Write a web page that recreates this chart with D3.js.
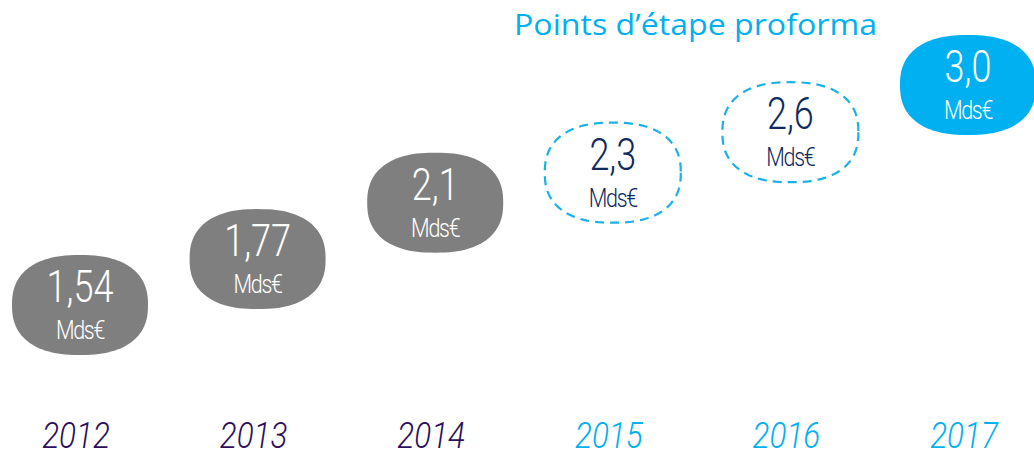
<!DOCTYPE html>
<html>
<head>
<meta charset="utf-8">
<script src="https://cdn.jsdelivr.net/npm/d3@7"></script>
<style>
  html, body { margin: 0; padding: 0; background: #fff; }
  svg { display: block; }
</style>
</head>
<body>
<svg id="chart" width="1034" height="457"></svg>
<script>
const width = 1034;
const height = 457;

// data
const years = ["2012", "2013", "2014", "2015", "2016", "2017"];
const values = [1.54, 1.77, 2.1, 2.3, 2.6, 3.0];
const valueLabels = ["1,54", "1,77", "2,1", "2,3", "2,6", "3,0"];
const kinds = ["actual", "actual", "actual", "target", "target", "final"];
const unitLabel = "Mds€";
const title = "Points d’étape proforma";

const gray = "#7f7f7f";
const cyan = "#00b0f0";
const navy = "#102a5e";
const purple = "#2b0f5c";

const svg = d3.select("#chart");

const xScale = d3.scalePoint()
  .domain(years)
  .range([80, 968]);

// bubbles climb with the value
const yScale = d3.scaleLog()
  .domain([1.54, 3.0])
  .range([305, 85]);

// squircle outline centred on 0,0
const bw = 136, bh = 100, n = 2.4;
const squircle = d3.range(0, 120).map(i => {
  const t = i / 120 * 2 * Math.PI;
  const c = Math.cos(t), s = Math.sin(t);
  return [
    bw / 2 * Math.sign(c) * Math.pow(Math.abs(c), 2 / n),
    bh / 2 * Math.sign(s) * Math.pow(Math.abs(s), 2 / n)
  ];
});
const shapePath = d3.line().curve(d3.curveLinearClosed)(squircle);

const data = years.map((y, i) => ({
  year: y, value: values[i], label: valueLabels[i], kind: kinds[i]
}));

const bubbles = svg.selectAll(".bubble")
  .data(data)
  .enter()
  .append("g")
  .attr("class", "bubble")
  .attr("transform", d => `translate(${xScale(d.year)},${yScale(d.value)})`);

bubbles.append("path")
  .attr("d", shapePath)
  .attr("fill", d => d.kind === "actual" ? gray : d.kind === "final" ? cyan : "none")
  .attr("stroke", d => d.kind === "target" ? "#1ab0e8" : "none")
  .attr("stroke-width", 2.2)
  .attr("stroke-dasharray", d => d.kind === "target" ? "9,6" : null);

const textColor = d => d.kind === "target" ? navy : "#fff";

bubbles.append("text")
  .attr("transform", "translate(0,-3) scale(0.8,1)")
  .attr("text-anchor", "middle")
  .attr("font-family", "Roboto, 'Open Sans', sans-serif")
  .attr("font-weight", 300)
  .attr("font-size", 45)
  .attr("fill", textColor)
  .text(d => d.label);

bubbles.append("text")
  .attr("transform", "translate(0,34) scale(0.86,1)")
  .attr("text-anchor", "middle")
  .attr("font-family", "Roboto, 'Open Sans', sans-serif")
  .attr("font-weight", 300)
  .attr("font-size", 25)
  .attr("letter-spacing", -1.5)
  .attr("fill", textColor)
  .text(unitLabel);

// year axis labels
svg.selectAll(".year")
  .data(data)
  .enter()
  .append("text")
  .attr("class", "year")
  .attr("transform", d => `translate(${xScale(d.year) - 4},448) scale(0.85,1)`)
  .attr("text-anchor", "middle")
  .attr("font-family", "Roboto, 'Open Sans', sans-serif")
  .attr("font-weight", 300)
  .attr("font-style", "italic")
  .attr("font-size", 37)
  .attr("fill", d => d.kind === "actual" ? purple : cyan)
  .text(d => d.year);

// title
svg.append("text")
  .attr("x", 514)
  .attr("y", 35)
  .attr("font-family", "'Open Sans', sans-serif")
  .attr("font-size", 30)
  .attr("fill", cyan)
  .attr("textLength", 363)
  .attr("lengthAdjust", "spacingAndGlyphs")
  .text(title);
</script>
</body>
</html>
